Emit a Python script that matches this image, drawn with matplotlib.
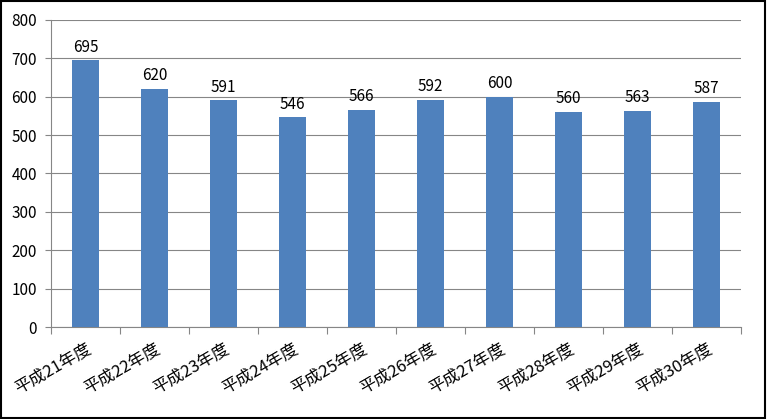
import matplotlib
matplotlib.use("Agg")
import matplotlib.pyplot as plt
from matplotlib.patches import Rectangle

plt.rcParams['font.family'] = ['Noto Sans CJK JP', 'DejaVu Sans']

# data
years = ["平成21年度", "平成22年度", "平成23年度", "平成24年度", "平成25年度",
         "平成26年度", "平成27年度", "平成28年度", "平成29年度", "平成30年度"]
values = [695, 620, 591, 546, 566, 592, 600, 560, 563, 587]

fig = plt.figure(figsize=(7.67, 4.19), dpi=100)
ax = fig.add_axes([51 / 767, 92 / 419, 690 / 767, 307 / 419])

x = list(range(len(years)))
bars = ax.bar(x, values, width=0.4, color="#4F81BD", zorder=3)
for xi, v in zip(x, values):
    ax.text(xi, v + 12, str(v), ha="center", va="bottom", fontsize=11)

ax.set_xlim(-0.5, len(years) - 0.5)
ax.set_ylim(0, 800)
ax.set_yticks(range(0, 801, 100))
ax.tick_params(axis="y", labelsize=11, length=4, color="#868686", pad=6)
ax.yaxis.grid(True, color="#868686", linewidth=0.8, zorder=0)

# category boundary ticks, labels at centers
ax.set_xticks([i - 0.5 for i in range(len(years) + 1)])
ax.set_xticklabels([])
ax.set_xticks(x, minor=True)
ax.set_xticklabels(years, minor=True, rotation=30, ha="right",
                   rotation_mode="anchor", fontsize=12)
ax.tick_params(axis="x", which="major", length=5, color="#868686")
ax.tick_params(axis="x", which="minor", length=0, pad=9)

for side in ["top", "right"]:
    ax.spines[side].set_visible(False)
for side in ["left", "bottom"]:
    ax.spines[side].set_color("#868686")

fig.patches.append(Rectangle((0.001, 0.002), 0.997, 0.996, transform=fig.transFigure,
                             fill=False, edgecolor="black", linewidth=1.5))

fig.savefig("out.png", dpi=100)
